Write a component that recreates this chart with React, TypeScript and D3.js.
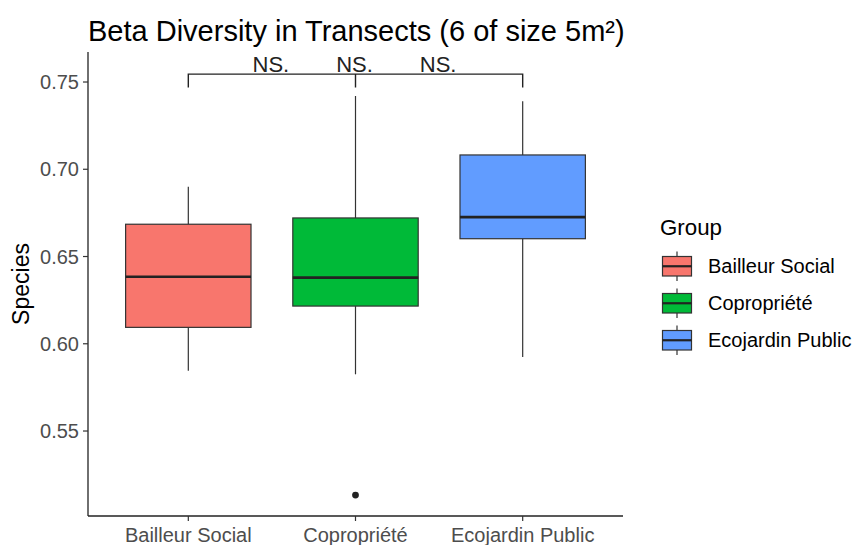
import React from "react";
import * as d3 from "d3";

const categories = ["Bailleur Social", "Copropriété", "Ecojardin Public"];
const colors = ["#F8766D", "#00BA38", "#619CFF"];
const whiskerLow = [0.5846, 0.5825, 0.5924];
const q1 = [0.6094, 0.6216, 0.6602];
const median = [0.6384, 0.6379, 0.6726];
const q3 = [0.6685, 0.6721, 0.7082];
const whiskerHigh = [0.69, 0.742, 0.739];
const outliers = [{ group: "Copropriété", value: 0.5133 }];
const yTicks = [0.55, 0.6, 0.65, 0.7, 0.75];
const sigLabels = ["NS.", "NS.", "NS."];
const bracketY = 0.7545;
const bracketTipY = 0.7468;

const W = 854;
const H = 545;
const left = 88;
const right = 623;
const top = 52;
const bottom = 516;
const font = "'Liberation Sans', Arial, sans-serif";

export default function App() {
  const x = d3
    .scalePoint<string>()
    .domain(categories)
    .range([left, right])
    .padding(0.6);
  const step = x.step();
  const boxW = step * 0.75;
  const y = d3.scaleLinear().domain([0.5013, 0.7672]).range([bottom, top]);

  const xs = categories.map((c) => x(c) as number);
  const sigX = [(xs[0] + xs[1]) / 2 - 1, xs[1] - 1, (xs[1] + xs[2]) / 2 - 1];

  return (
    <svg
      width={W}
      height={H}
      style={{ position: "absolute", left: 0, top: 0, background: "#fff" }}
      fontFamily={font}
    >
      <rect width={W} height={H} fill="#fff" />
      {/* title */}
      <text x={left} y={41} fontSize={29} fill="#000">
        Beta Diversity in Transects (6 of size 5m²)
      </text>

      {/* boxes */}
      {categories.map((c, i) => {
        const cx = x(c) as number;
        return (
          <g key={c}>
            <line x1={cx} x2={cx} y1={y(whiskerHigh[i])} y2={y(q3[i])} stroke="#333" strokeWidth={1.2} />
            <line x1={cx} x2={cx} y1={y(q1[i])} y2={y(whiskerLow[i])} stroke="#333" strokeWidth={1.2} />
            <rect
              x={cx - boxW / 2}
              y={y(q3[i])}
              width={boxW}
              height={y(q1[i]) - y(q3[i])}
              fill={colors[i]}
              stroke="#333"
              strokeWidth={1.2}
            />
            <line
              x1={cx - boxW / 2}
              x2={cx + boxW / 2}
              y1={y(median[i])}
              y2={y(median[i])}
              stroke="#222"
              strokeWidth={2.6}
            />
          </g>
        );
      })}
      {outliers.map((o, i) => (
        <circle key={i} cx={x(o.group) as number} cy={y(o.value)} r={3.4} fill="#222" />
      ))}

      {/* bracket */}
      <path
        d={`M${xs[0]},${y(bracketTipY)}V${y(bracketY)}H${xs[2]}V${y(bracketTipY)}M${xs[1]},${y(bracketY)}V${y(bracketTipY)}`}
        fill="none"
        stroke="#222"
        strokeWidth={1.4}
      />
      {sigLabels.map((s, i) => (
        <text key={i} x={sigX[i]} y={72} fontSize={22} textAnchor="middle" fill="#222">
          {s}
        </text>
      ))}

      {/* axes */}
      <line x1={left} x2={left} y1={top} y2={bottom} stroke="#222" strokeWidth={1.3} />
      <line x1={left} x2={right} y1={bottom} y2={bottom} stroke="#222" strokeWidth={1.3} />
      {yTicks.map((t) => (
        <g key={t}>
          <line x1={left - 5} x2={left} y1={y(t)} y2={y(t)} stroke="#333" strokeWidth={1.2} />
          <text x={left - 9} y={y(t)} dy="0.36em" fontSize={20} textAnchor="end" fill="#4D4D4D">
            {d3.format(".2f")(t)}
          </text>
        </g>
      ))}
      {categories.map((c) => (
        <g key={c}>
          <line x1={x(c) as number} x2={x(c) as number} y1={bottom} y2={bottom + 5} stroke="#333" strokeWidth={1.2} />
          <text x={x(c) as number} y={542} fontSize={20} textAnchor="middle" fill="#4D4D4D">
            {c}
          </text>
        </g>
      ))}
      <text
        transform={`translate(29,${(top + bottom) / 2}) rotate(-90)`}
        fontSize={23}
        textAnchor="middle"
        fill="#000"
      >
        Species
      </text>

      {/* legend */}
      <text x={660} y={235} fontSize={22.3} fill="#000">
        Group
      </text>
      {categories.map((c, i) => {
        const ky = 256.5 + i * 37;
        const kx = 662.5;
        const kw = 29;
        const kh = 19.5;
        return (
          <g key={c}>
            <line x1={kx + kw / 2} x2={kx + kw / 2} y1={ky - 5} y2={ky + kh + 5} stroke="#333" strokeWidth={1.2} />
            <rect x={kx} y={ky} width={kw} height={kh} fill={colors[i]} stroke="#333" strokeWidth={1.2} />
            <line x1={kx} x2={kx + kw} y1={ky + kh / 2} y2={ky + kh / 2} stroke="#222" strokeWidth={2.2} />
            <text x={708} y={ky + kh / 2} dy="0.36em" fontSize={20} fill="#000">
              {c}
            </text>
          </g>
        );
      })}
    </svg>
  );
}
